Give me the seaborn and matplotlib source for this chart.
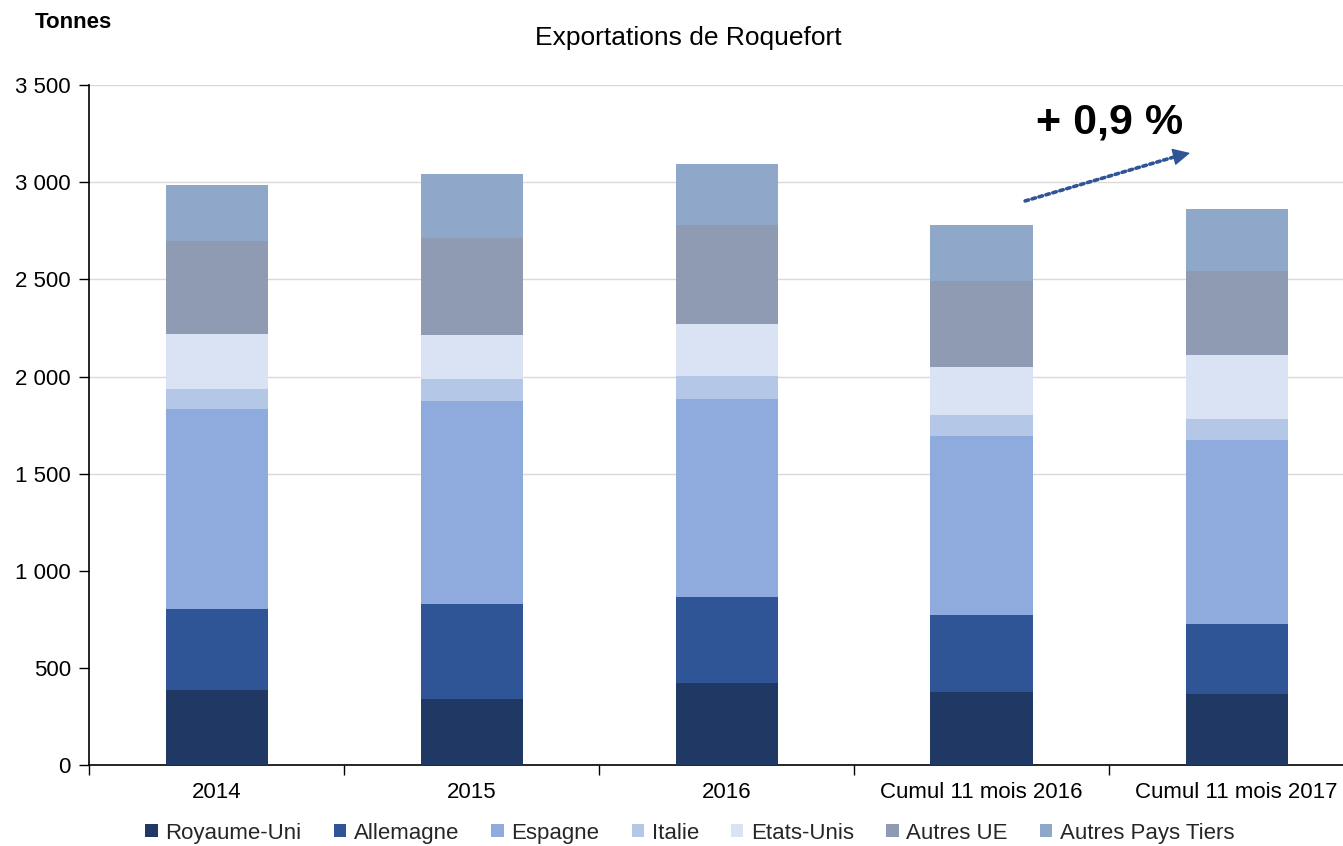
import numpy as np
import pandas as pd
import matplotlib
matplotlib.use("Agg")
import matplotlib.pyplot as plt
from matplotlib.patches import Patch
from matplotlib.ticker import FuncFormatter, FixedLocator
import seaborn as sns

categories = ["2014", "2015", "2016", "Cumul 11 mois 2016", "Cumul 11 mois 2017"]
series_names = ["Royaume-Uni", "Allemagne", "Espagne", "Italie", "Etats-Unis",
                "Autres UE", "Autres Pays Tiers"]
royaume_uni = [386, 340, 422, 376, 366]
allemagne = [417, 489, 443, 396, 360]
espagne = [1030, 1045, 1019, 922, 947]
italie = [103, 113, 119, 108, 108]
etats_unis = [285, 227, 267, 247, 330]
autres_ue = [477, 499, 509, 443, 432]
autres_pays_tiers = [288, 330, 315, 288, 320]
colors = ["#203864", "#2F5597", "#8FAADC", "#B4C7E7", "#DAE3F3", "#8F9BB3", "#8FA7C9"]
y_ticks = [0, 500, 1000, 1500, 2000, 2500, 3000, 3500]

series = [royaume_uni, allemagne, espagne, italie, etats_unis, autres_ue, autres_pays_tiers]

sns.set_theme(style="white")
plt.rcParams["font.family"] = ["Liberation Sans", "DejaVu Sans"]

fig = plt.figure(figsize=(13.43, 8.46), dpi=100)
ax = fig.add_axes([89 / 1343, 81 / 846, 1275 / 1343, (765 - 85.2) / 846])

cum = np.cumsum(np.array(series, dtype=float), axis=0)
# draw cumulative totals top-down so each layer overlays the previous
for i in range(len(series) - 1, -1, -1):
    df = pd.DataFrame({"cat": categories, "val": cum[i]})
    sns.barplot(data=df, x="cat", y="val", color=colors[i], width=0.4,
                saturation=1, ax=ax, zorder=3, linewidth=0, order=categories)

ax.set_xlim(-0.5, len(categories) - 0.5)
ax.set_ylim(0, 3500)
ax.set_xlabel("")
ax.set_ylabel("")

ax.yaxis.set_major_locator(FixedLocator(y_ticks))
ax.yaxis.set_major_formatter(FuncFormatter(lambda v, p: f"{int(v):,}".replace(",", " ")))
ax.tick_params(axis="y", which="major", left=True, length=7, width=1, color="black",
               labelsize=16, pad=6, labelcolor="black")
ax.grid(axis="y", color="#D9D9D9", linewidth=1, zorder=0)
ax.set_axisbelow(True)
for val, gl in zip(y_ticks, ax.yaxis.get_gridlines()):
    if val in (0, 500, 1000):
        gl.set_visible(False)

ax.tick_params(axis="x", which="major", bottom=True, length=0, labelsize=16, pad=12,
               labelcolor="black")
ax.set_xticks(np.arange(-0.5, len(categories) - 0.5, 1.0), minor=True)
ax.tick_params(axis="x", which="minor", bottom=True, length=7, width=1, color="black")

for s in ["top", "right"]:
    ax.spines[s].set_visible(False)
for s in ["left", "bottom"]:
    ax.spines[s].set_color("black")
    ax.spines[s].set_linewidth(1.2)

fig.text(688 / 1343, 1 - 38 / 846, "Exportations de Roquefort", ha="center", va="center",
         fontsize=19, color="black")
fig.text(35 / 1343, 1 - 22 / 846, "Tonnes", ha="left", va="center", fontsize=16,
         fontweight="bold", color="black")

# growth annotation
fig.text(1110 / 1343, 1 - 123 / 846, "+ 0,9 %", ha="center", va="center", fontsize=31,
         fontweight="bold", color="black")
ax.annotate("", xy=(3.77, 3136), xytext=(3.171, 2904), xycoords="data",
            arrowprops=dict(arrowstyle="-", linestyle=(0, (1, 1)), lw=2.6,
                            color="#2F5597", shrinkA=0, shrinkB=0),
            zorder=5, annotation_clip=False)
ax.annotate("", xy=(3.818, 3151), xytext=(3.76, 3133), xycoords="data",
            arrowprops=dict(arrowstyle="-|>,head_length=0.9,head_width=0.45",
                            lw=1, color="#2F5597", shrinkA=0, shrinkB=0),
            zorder=5, annotation_clip=False)

handles = [Patch(facecolor=c, edgecolor="none") for c in colors]
fig.legend(handles, series_names, loc="center", bbox_to_anchor=(690 / 1343, 1 - 833 / 846),
           ncol=7, frameon=False, fontsize=16, handlelength=0.55, handleheight=0.55,
           handletextpad=0.35, columnspacing=1.45, borderpad=0)

fig.savefig("out.png", dpi=100)
